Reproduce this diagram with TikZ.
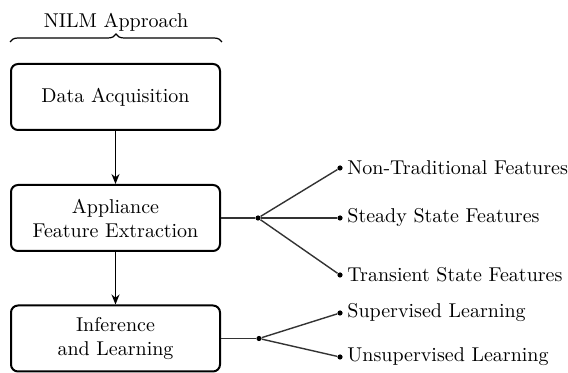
\documentclass[tikz,border=0pt]{standalone}
\usetikzlibrary{arrows.meta,decorations.pathreplacing}
\begin{document}
\begin{tikzpicture}[x=0.5pt,y=-0.5pt,
  box/.style={draw,line width=1pt,rounded corners=3.5pt,minimum width=104.5pt,minimum height=33pt,align=center,inner sep=2pt},
  dot/.style={circle,fill,inner sep=0pt,minimum size=2.6pt},
  leaf/.style={anchor=west,inner sep=3.5pt},
  link/.style={line width=0.7pt,black!80},
  flow/.style={line width=0.7pt,-{Stealth[length=5pt,width=4pt]}}]
\useasboundingbox (0,0) rectangle (568,373);
\coordinate (bl) at (10,42);
\coordinate (br) at (222,42);
\draw[line width=0.6pt,decorate,decoration={brace,amplitude=4pt}] (bl) -- (br);
\node (title) at (116,22) {NILM Approach};
\node[box] (da) at (115.5,97) {Data Acquisition};
\node[box] (fe) at (115.5,218) {Appliance\\Feature Extraction};
\node[box] (il) at (115.5,338.5) {Inference\\and Learning};
\draw[flow] (da) -- (fe);
\draw[flow] (fe) -- (il);
% feature branches
\node[dot] (j1) at (258,218) {};
\node[dot] (a1) at (340,168) {};
\node[dot] (a2) at (340,218) {};
\node[dot] (a3) at (340,275) {};
\draw[link] (fe.east) -- (j1);
\draw[link] (j1) -- (a1);
\draw[link] (j1) -- (a2);
\draw[link] (j1) -- (a3);
\node[leaf] (t1) at (a1) {Non-Traditional Features};
\node[leaf] (t2) at (a2) {Steady State Features};
\node[leaf] (t3) at (a3) {Transient State Features};
% learning branches
\node[dot] (j2) at (259,338.5) {};
\node[dot] (b1) at (340,313) {};
\node[dot] (b2) at (340,357) {};
\draw[link] (il.east) -- (j2);
\draw[link] (j2) -- (b1);
\draw[link] (j2) -- (b2);
\node[leaf] (u1) at (b1) {Supervised Learning};
\node[leaf] (u2) at (b2) {Unsupervised Learning};
\end{tikzpicture}
\end{document}
